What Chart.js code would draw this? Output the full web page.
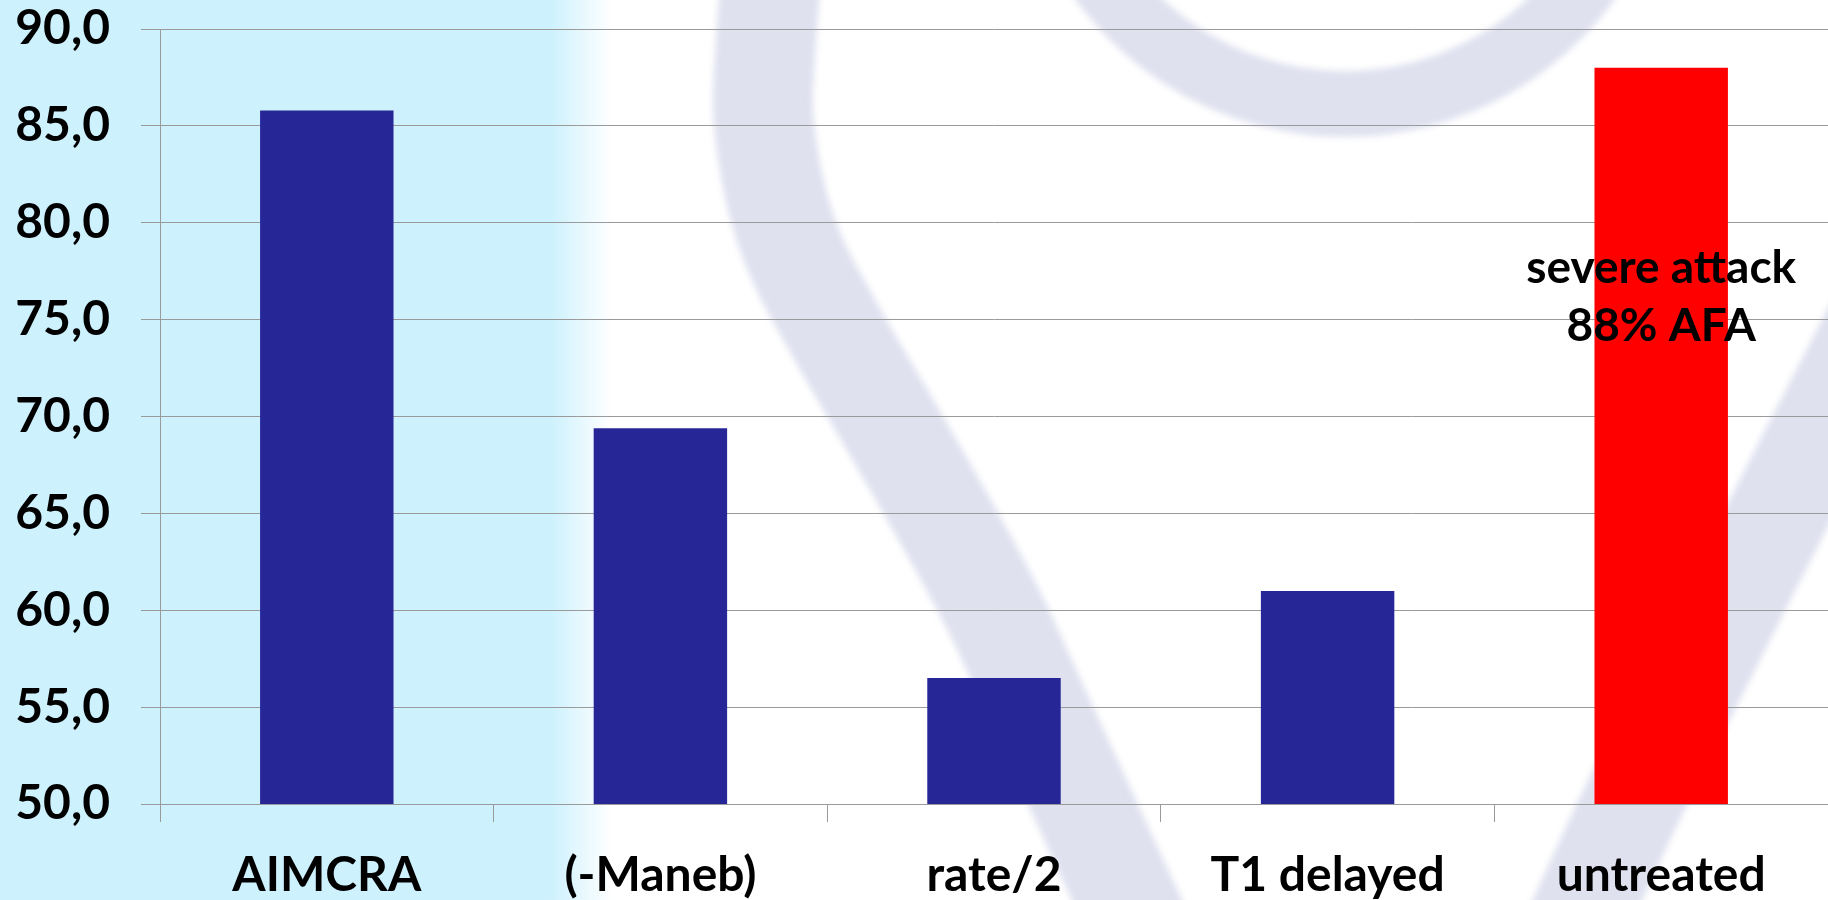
<!DOCTYPE html>
<html>
<head>
<meta charset="utf-8">
<script src="https://cdn.jsdelivr.net/npm/chart.js@4.4.1/dist/chart.umd.min.js"></script>
<style>
  html, body { margin: 0; padding: 0; background: #fff; }
  #wrap { width: 1828px; height: 900px; }
</style>
</head>
<body>
<div id="wrap"><canvas id="afaChart" width="1828" height="900"></canvas></div>
<script>
// AFA per treatment (%)
const categories = ['AIMCRA', '(-Maneb)', 'rate/2', 'T1 delayed', 'untreated'];
const afaValues = [85.8, 69.4, 56.5, 61.0, 88.0];
const barColors = ['#272697', '#272697', '#272697', '#272697', '#ff0000'];
const yTicks = [50, 55, 60, 65, 70, 75, 80, 85, 90];
const noteLines = ['severe attack', '88% AFA'];

const FONT = 'Lato, "Open Sans", sans-serif';
const GRID = '#9a9a9a';

// smooth stroke through a list of points (midpoint quadratic)
function strokeSmooth(ctx, pts) {
    ctx.beginPath();
    ctx.moveTo(pts[0][0], pts[0][1]);
    for (let i = 1; i < pts.length - 1; i++) {
        const mx = (pts[i][0] + pts[i + 1][0]) / 2;
        const my = (pts[i][1] + pts[i + 1][1]) / 2;
        ctx.quadraticCurveTo(pts[i][0], pts[i][1], mx, my);
    }
    const last = pts[pts.length - 1];
    ctx.lineTo(last[0], last[1]);
    ctx.stroke();
}

// slide background: blue strip on the left + faint logo swirl
const slideBackground = {
    id: 'slideBackground',
    beforeDraw(chart) {
        const ctx = chart.ctx, w = chart.width, h = chart.height;
        ctx.save();
        const grad = ctx.createLinearGradient(0, 0, w, 0);
        grad.addColorStop(0, '#cdf1fd');
        grad.addColorStop(550 / w, '#cdf1fd');
        grad.addColorStop(612 / w, '#ffffff');
        grad.addColorStop(1, '#ffffff');
        ctx.fillStyle = grad;
        ctx.fillRect(0, 0, w, h);

        ctx.filter = 'blur(3px)';
        ctx.strokeStyle = '#dfe1ef';
        ctx.lineWidth = 100;
        strokeSmooth(ctx, [[772, -40], [764, 60], [762, 130], [785, 240], [840, 340],
            [905, 450], [990, 600], [1035, 700], [1090, 820], [1150, 950]]);
        strokeSmooth(ctx, [[1565, 950], [1623, 820], [1694, 680], [1775, 520],
            [1847, 380], [1920, 240]]);
        ctx.lineWidth = 66;
        ctx.beginPath();
        ctx.arc(1345, -196, 300, 0, Math.PI);
        ctx.stroke();
        ctx.restore();
    }
};

// two-line note over the untreated bar
const barNote = {
    id: 'barNote',
    afterDatasetsDraw(chart) {
        const idx = categories.indexOf('untreated');
        const bar = chart.getDatasetMeta(0).data[idx];
        const y = chart.scales.y;
        const ctx = chart.ctx;
        const baselines = [76.9, 73.9];
        ctx.save();
        ctx.font = 'bold 46px ' + FONT;
        ctx.fillStyle = '#000';
        ctx.textAlign = 'center';
        ctx.textBaseline = 'alphabetic';
        noteLines.forEach((line, i) => {
            ctx.fillText(line, bar.x, y.getPixelForValue(baselines[i]));
        });
        ctx.restore();
    }
};

new Chart(document.getElementById('afaChart'), {
    type: 'bar',
    data: {
        labels: categories,
        datasets: [{
            data: afaValues,
            backgroundColor: barColors,
            borderWidth: 0,
            barPercentage: 0.4,
            categoryPercentage: 1.0
        }]
    },
    options: {
        responsive: false,
        animation: false,
        layout: { padding: { top: 29, right: 0, bottom: 0, left: 0 } },
        plugins: {
            legend: { display: false },
            tooltip: { enabled: false }
        },
        scales: {
            x: {
                grid: { display: true, drawOnChartArea: false, tickLength: 18, color: GRID, offset: true },
                border: { color: GRID, width: 1 },
                ticks: {
                    color: '#000',
                    font: { family: FONT, weight: 'bold', size: 48, lineHeight: 1.2 },
                    padding: 25,
                    maxRotation: 0,
                    autoSkip: false
                },
                afterFit: (s) => { s.height = 96; s.paddingLeft = 0; s.paddingRight = 0; }
            },
            y: {
                min: 50,
                max: 90,
                grid: { color: GRID, tickLength: 19 },
                border: { color: GRID, width: 1 },
                ticks: {
                    color: '#000',
                    font: { family: FONT, weight: 'bold', size: 48, lineHeight: 1.2 },
                    padding: 31,
                    callback: (v) => v.toFixed(1).replace('.', ',')
                },
                afterBuildTicks: (s) => { s.ticks = yTicks.map(v => ({ value: v })); },
                afterFit: (s) => { s.width = 160; s.paddingTop = 0; s.paddingBottom = 0; }
            }
        }
    },
    plugins: [slideBackground, barNote]
});
</script>
</body>
</html>
